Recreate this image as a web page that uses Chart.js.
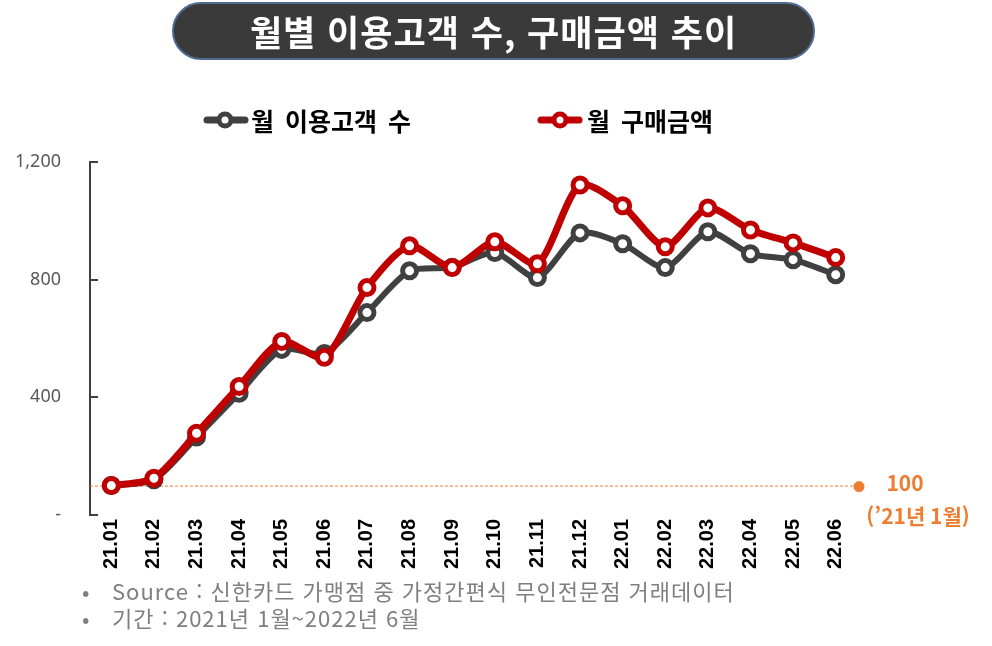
<!DOCTYPE html>
<html lang="ko">
<head>
<meta charset="utf-8">
<script src="https://cdn.jsdelivr.net/npm/chart.js@4.4.1/dist/chart.umd.min.js"></script>
<style>
    html, body { margin: 0; padding: 0; background: #fff; }
    #wrap { position: relative; width: 992px; height: 646px; overflow: hidden; font-family: "Noto Sans CJK KR", "Noto Sans", sans-serif; }
    #chart { position: absolute; left: 0; top: 0; }
    .title {
        position: absolute; left: 172px; top: 2px; width: 639px; height: 54px;
        background: #3a3a3a; border: 2px solid #4e6b92; border-radius: 29px;
        color: #fff; font-weight: 700; font-size: 35px; letter-spacing: 1px;
        line-height: 54px; text-align: center;
    }
    .leg-mark { position: absolute; top: 110px; }
    .leg-text { position: absolute; top: 104px; height: 32px; line-height: 32px; font-size: 25px; font-weight: 700; color: #000; word-spacing: 4px; white-space: nowrap; }
    .foot { position: absolute; left: 82px; font-size: 22px; letter-spacing: 1px; color: #7f7f7f; height: 28px; line-height: 28px; white-space: nowrap; }
    .foot span { display: inline-block; width: 30px; letter-spacing: 0; }
</style>
</head>
<body>
<div id="wrap">
    <canvas id="chart" width="992" height="646"></canvas>
    <div class="title">월별 이용고객 수, 구매금액 추이</div>

    <svg class="leg-mark" style="left:202px" width="48" height="20">
        <line x1="5" y1="10" x2="43" y2="10" stroke="#404040" stroke-width="7" stroke-linecap="round"/>
        <circle cx="23" cy="10" r="6" fill="#fff" stroke="#404040" stroke-width="5"/>
    </svg>
    <div class="leg-text" style="left:251px">월 이용고객 수</div>

    <svg class="leg-mark" style="left:536px" width="48" height="20">
        <line x1="5" y1="10" x2="43" y2="10" stroke="#c00000" stroke-width="7" stroke-linecap="round"/>
        <circle cx="24" cy="10" r="6" fill="#fff" stroke="#c00000" stroke-width="5"/>
    </svg>
    <div class="leg-text" style="left:587px">월 구매금액</div>

    <div class="foot" style="top:576px"><span>•</span>Source : 신한카드 가맹점 중 가정간편식 무인전문점 거래데이터</div>
    <div class="foot" style="top:603px"><span>•</span>기간 : 2021년 1월~2022년 6월</div>
</div>

<script>
    // months on the x axis
    var months = ['21.01', '21.02', '21.03', '21.04', '21.05', '21.06', '21.07', '21.08', '21.09',
                  '21.10', '21.11', '21.12', '22.01', '22.02', '22.03', '22.04', '22.05', '22.06'];
    // index, '21.01 = 100
    var customers = [100, 120, 265, 414, 563, 549, 688, 830, 842, 892, 807, 959, 922, 841, 963, 888, 868, 817];
    var sales = [100, 125, 278, 437, 590, 536, 773, 915, 841, 929, 854, 1122, 1051, 912, 1044, 969, 925, 875];
    var yTicks = [0, 400, 800, 1200];
    var baseValue = 100;
    var baseLabel = ['100', '(\u201921년 1월)'];

    var orange = '#ed7d31';
    var axisColor = '#404040';

    // inner tick marks on the y axis + the 100 reference line
    var extras = {
        id: 'extras',
        beforeDatasetsDraw: function (chart) {
            var ctx = chart.ctx;
            var area = chart.chartArea;
            var y = chart.scales.y.getPixelForValue(baseValue);
            ctx.save();
            ctx.strokeStyle = orange;
            ctx.lineWidth = 1;
            ctx.setLineDash([3, 2]);
            ctx.beginPath();
            ctx.moveTo(area.left, y + 0.5);
            ctx.lineTo(area.right, y + 0.5);
            ctx.stroke();
            ctx.setLineDash([]);

            ctx.fillStyle = orange;
            ctx.beginPath();
            ctx.arc(area.right + 2, y + 1, 5.5, 0, Math.PI * 2);
            ctx.fill();

            ctx.font = 'bold 21px "Noto Sans CJK KR", sans-serif';
            ctx.textAlign = 'center';
            ctx.textBaseline = 'middle';
            ctx.fillText(baseLabel[0], area.right + 48, y - 3);
            ctx.fillText(baseLabel[1], area.right + 61, y + 30);

            ctx.strokeStyle = axisColor;
            ctx.lineWidth = 2;
            yTicks.forEach(function (v) {
                var ty = Math.round(chart.scales.y.getPixelForValue(v));
                ctx.beginPath();
                ctx.moveTo(area.left, ty);
                ctx.lineTo(area.left + 8, ty);
                ctx.stroke();
            });
            ctx.restore();
        }
    };

    new Chart(document.getElementById('chart').getContext('2d'), {
        type: 'line',
        data: {
            labels: months,
            datasets: [{
                label: '월 이용고객 수',
                data: customers,
                borderColor: axisColor,
                borderWidth: 6,
                pointRadius: 7,
                pointBorderWidth: 5,
                pointBackgroundColor: '#fff',
                pointBorderColor: axisColor,
                tension: 0.25,
                order: 1
            }, {
                label: '월 구매금액',
                data: sales,
                borderColor: '#c00000',
                borderWidth: 7,
                pointRadius: 7,
                pointBorderWidth: 5,
                pointBackgroundColor: '#fff',
                pointBorderColor: '#c00000',
                tension: 0.25,
                order: 0
            }]
        },
        options: {
            responsive: false,
            animation: false,
            devicePixelRatio: 1,
            layout: { padding: { left: 0, top: 162, right: 135, bottom: 0 } },
            plugins: { legend: { display: false }, tooltip: { enabled: false } },
            scales: {
                x: {
                    offset: true,
                    grid: { display: false, drawTicks: false },
                    border: { display: false },
                    ticks: {
                        color: '#000',
                        padding: 4,
                        minRotation: 90,
                        maxRotation: 90,
                        autoSkip: false,
                        font: { family: '"Liberation Sans", Arial, sans-serif', size: 20, weight: 'bold' }
                    },
                    afterFit: function (scale) { scale.height = 131; }
                },
                y: {
                    min: 0,
                    max: 1200,
                    grid: { display: false, drawTicks: false },
                    border: { display: true, color: axisColor, width: 2 },
                    afterBuildTicks: function (scale) {
                        scale.ticks = yTicks.map(function (v) { return { value: v }; });
                    },
                    ticks: {
                        color: '#595959',
                        padding: 29,
                        font: { family: '"Noto Sans", sans-serif', size: 18 },
                        callback: function (v) { return v === 0 ? '-' : v.toLocaleString('en-US'); }
                    },
                    afterFit: function (scale) { scale.width = 90; }
                }
            }
        },
        plugins: [extras]
    });
</script>
</body>
</html>
